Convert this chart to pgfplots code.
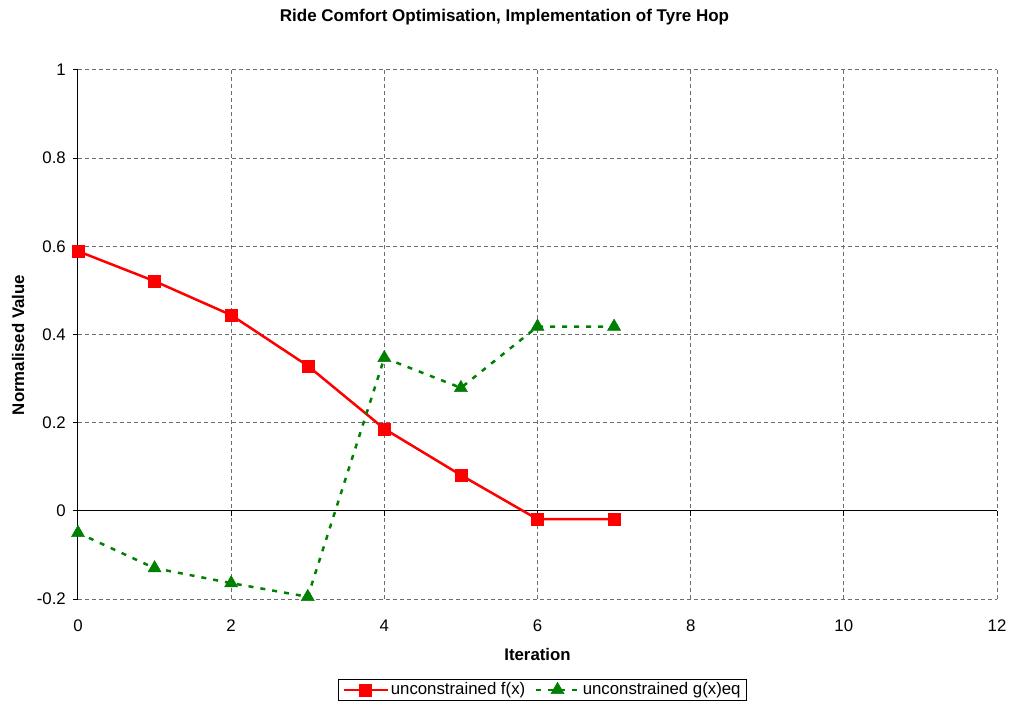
\documentclass[border=0pt]{standalone}
\usepackage{pgfplots}
\pgfplotsset{compat=1.18}
\usepackage{fontspec}
\setmainfont{Liberation Sans}
\definecolor{fred}{RGB}{255,0,0}
\definecolor{fgreen}{RGB}{0,128,0}
\definecolor{gridgray}{RGB}{110,110,110}

% Optimisation history
\pgfplotstableread{
it  f
0   0.589
1   0.521
2   0.444
3   0.329
4   0.186
5   0.081
6   -0.019
7   -0.019
}\fdata
\pgfplotstableread{
it  g
0   -0.050
1   -0.130
2   -0.164
3   -0.195
4   0.347
5   0.279
6   0.418
7   0.418
}\gdata

\newcommand{\chartfont}{\fontsize{16.8}{19}\selectfont}

\begin{document}
\chartfont
\begin{tikzpicture}
\useasboundingbox (-78pt,-105pt) rectangle (931pt,599pt);
\begin{axis}[
  at={(0pt,0pt)}, anchor=south west,
  scale only axis, width=919pt, height=529pt,
  xmin=0, xmax=12, ymin=-0.2, ymax=1,
  xtick={0,2,4,6,8,10,12},
  ytick={-0.2,0,0.2,0.4,0.6,0.8,1},
  yticklabels={-0.2,0,0.2,0.4,0.6,0.8,1},
  xticklabels={0,2,4,6,8,10,12},
  major tick length=0pt,
  axis line style={draw=none},
  grid=major,
  major grid style={gridgray, line width=1pt, dash pattern=on 4pt off 3pt},
  ticklabel style={font=\chartfont},
  yticklabel style={anchor=east, inner sep=0pt, xshift=-12pt},
  xticklabel style={anchor=north, inner sep=0pt, yshift=-21pt},
  clip=false,
  legend style={at={(0.5054,-0.1512)}, anchor=north, draw=black, line width=1pt,
    font=\chartfont, legend columns=2,
    inner xsep=4pt, inner ysep=1pt, row sep=0pt,
    nodes={inner sep=2pt},
    /tikz/every even column/.append style={column sep=7pt}},
  legend cell align=left,
  legend image code/.code={%
    \draw[mark repeat=2,mark phase=2] plot coordinates {(0pt,0pt) (22pt,0pt) (44pt,0pt)};},
]
% axis lines: left border and the zero line
\draw[black, line width=1pt] (axis cs:0,-0.2) -- (axis cs:0,1);
\draw[black, line width=1pt] (axis cs:0,0) -- (axis cs:12,0);
\pgfplotsinvokeforeach{-0.2,0,0.2,0.4,0.6,0.8,1}{
  \draw[black, line width=1pt] (axis cs:0,#1) -- ++(-5pt,0pt);}
\pgfplotsinvokeforeach{0,2,4,6,8,10,12}{
  \draw[black, line width=1pt] (axis cs:#1,0) -- ++(0pt,-5pt);}

\addplot[fred, line width=2.5pt, mark=square*, mark size=6pt,
  mark options={solid, line width=0.5pt}] table[x=it, y=f] {\fdata};
\addlegendentry{unconstrained f(x)}
\addplot[fgreen, line width=2.5pt, dash pattern=on 5pt off 7pt,
  mark=triangle*, mark size=7.5pt, mark options={solid, line width=0.5pt}]
  table[x=it, y=g] {\gdata};
\addlegendentry{unconstrained g(x)eq}
\end{axis}
\node[font=\fontsize{17}{20}\selectfont\bfseries] at (426.5pt,582pt)
  {Ride Comfort Optimisation, Implementation of Tyre Hop};
\node[font=\chartfont\bfseries] at (459.5pt,-55pt) {Iteration};
\node[font=\chartfont\bfseries, rotate=90] at (-60pt,254pt) {Normalised Value};
\end{tikzpicture}
\end{document}
